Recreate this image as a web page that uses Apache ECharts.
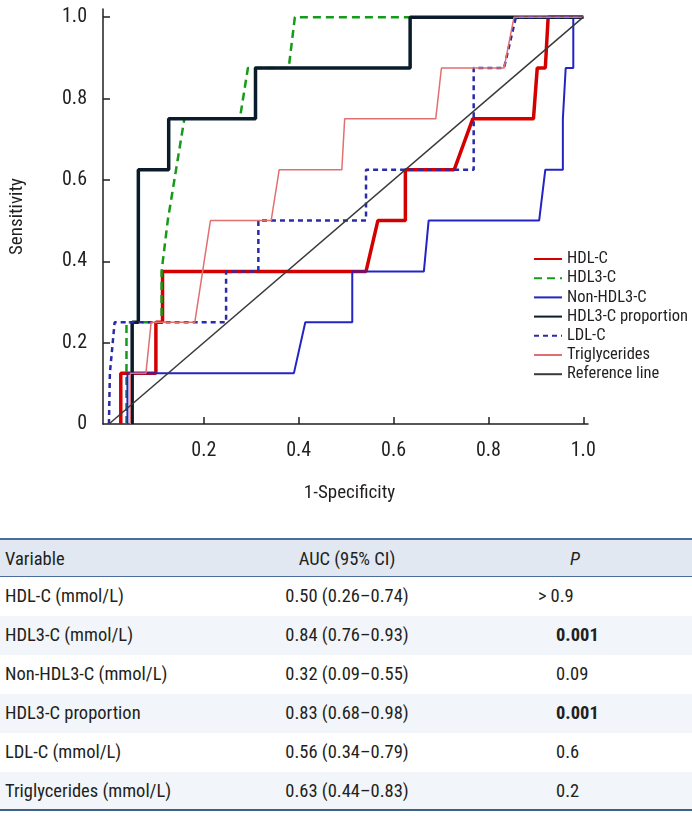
<!DOCTYPE html>
<html>
<head>
<meta charset="utf-8">
<script src="https://cdn.jsdelivr.net/npm/echarts@6/dist/echarts.min.js"></script>
<style>
html,body{margin:0;padding:0;background:#fff;}
#wrap{position:relative;width:692px;height:816px;overflow:hidden;background:#fff;}
#chart{position:absolute;left:0;top:0;width:692px;height:530px;}
#tbl{position:absolute;left:0;top:538px;width:692px;font-family:'Roboto Condensed',Roboto,sans-serif;font-size:18.5px;color:#231f20;}
.row{position:relative;height:39px;box-sizing:border-box;}
.row div{position:absolute;top:0;height:100%;line-height:39px;white-space:nowrap;}
.hdr{background:#e1e8f2;border-top:2px solid #4a6d9c;border-bottom:1.5px solid #4a6d9c;}
.shade{background:#f2f5f9;}
.last{border-bottom:2px solid #3f6089;}
</style>
</head>
<body>
<div id="wrap">
<div id="chart"></div>
<div id="tbl"></div>
</div>
<script>
// ---- ROC curve data: [1-Specificity, Sensitivity] ----
const hdlC = [[0.025,0],[0.025,0.125],[0.099,0.125],[0.099,0.25],[0.113,0.25],[0.113,0.375],[0.542,0.375],[0.567,0.5],[0.625,0.5],[0.625,0.625],[0.728,0.625],[0.767,0.75],[0.895,0.75],[0.903,0.875],[0.920,0.875],[0.926,1],[1,1]];
const hdl3C = [[0.037,0],[0.037,0.25],[0.111,0.25],[0.111,0.375],[0.124,0.5],[0.159,0.75],[0.276,0.75],[0.293,0.875],[0.379,0.875],[0.392,1],[1,1]];
const nonHdl3C = [[0.039,0],[0.039,0.125],[0.390,0.125],[0.414,0.25],[0.513,0.25],[0.513,0.375],[0.664,0.375],[0.674,0.5],[0.907,0.5],[0.920,0.625],[0.957,0.625],[0.957,0.75],[0.961,0.75],[0.963,0.875],[0.979,0.875],[0.979,1],[1,1]];
const hdl3CProportion = [[0.049,0],[0.049,0.25],[0.062,0.25],[0.062,0.625],[0.126,0.625],[0.126,0.75],[0.309,0.75],[0.309,0.875],[0.635,0.875],[0.635,1],[1,1]];
const ldlC = [[0,0],[0.002,0.125],[0.012,0.25],[0.247,0.25],[0.247,0.375],[0.315,0.375],[0.315,0.5],[0.542,0.5],[0.542,0.625],[0.769,0.625],[0.769,0.875],[0.833,0.875],[0.858,1],[1,1]];
const triglycerides = [[0.045,0],[0.045,0.125],[0.078,0.125],[0.089,0.25],[0.181,0.25],[0.214,0.5],[0.342,0.5],[0.359,0.625],[0.491,0.625],[0.497,0.75],[0.689,0.75],[0.701,0.875],[0.833,0.875],[0.854,1],[1,1]];
const referenceLine = [[0,0],[1,1]];

const seriesNames = ['HDL-C','HDL3-C','Non-HDL3-C','HDL3-C proportion','LDL-C','Triglycerides','Reference line'];
const xTicks = [0.2,0.4,0.6,0.8,1.0];
const yTicks = [0,0.2,0.4,0.6,0.8,1.0];

// ---- Table data ----
const tableHeader = ['Variable','AUC (95% CI)','P'];
const tableVariables = ['HDL-C (mmol/L)','HDL3-C (mmol/L)','Non-HDL3-C (mmol/L)','HDL3-C proportion','LDL-C (mmol/L)','Triglycerides (mmol/L)'];
const tableAUC = ['0.50 (0.26–0.74)','0.84 (0.76–0.93)','0.32 (0.09–0.55)','0.83 (0.68–0.98)','0.56 (0.34–0.79)','0.63 (0.44–0.83)'];
const tableP = ['>0.9','0.001','0.09','0.001','0.6','0.2'];
const tablePBold = [false,true,false,true,false,false];

const FONT = "'Roboto Condensed',Roboto,sans-serif";
const TXT = '#231f20';

const styles = {
  'HDL-C': {color:'#d40000', width:3.5, type:'solid'},
  'HDL3-C': {color:'#169a1a', width:2.5, type:[8,5]},
  'Non-HDL3-C': {color:'#2424c4', width:2, type:'solid'},
  'HDL3-C proportion': {color:'#0a1c2b', width:3.5, type:'solid'},
  'LDL-C': {color:'#2b2ba8', width:2.5, type:[5,4]},
  'Triglycerides': {color:'#e07070', width:1.5, type:'solid'},
  'Reference line': {color:'#3a3a3a', width:1.5, type:'solid'}
};
const dataByName = {
  'HDL-C': hdlC, 'HDL3-C': hdl3C, 'Non-HDL3-C': nonHdl3C,
  'HDL3-C proportion': hdl3CProportion, 'LDL-C': ldlC,
  'Triglycerides': triglycerides, 'Reference line': referenceLine
};

const chart = echarts.init(document.getElementById('chart'), null, {renderer:'canvas'});
chart.setOption({
  animation:false,
  backgroundColor:'#fff',
  textStyle:{fontFamily:FONT},
  grid:{left:93, right:104, top:9, bottom:530-424, containLabel:false},
  xAxis:{
    type:'value', min:-0.0125, max:1.01,
    name:'1-Specificity', nameLocation:'middle', nameGap:60,
    nameTextStyle:{fontFamily:FONT, fontSize:19, color:TXT, padding:[0,0,0,8]},
    axisLine:{show:true, onZero:false, lineStyle:{color:TXT, width:1.5}},
    axisTick:{show:true, inside:true, length:7, lineStyle:{color:TXT, width:1.5}, customValues:xTicks},
    axisLabel:{fontFamily:FONT, fontSize:20, color:TXT, margin:17, customValues:xTicks, formatter:v=>v.toFixed(1)},
    splitLine:{show:false}
  },
  yAxis:{
    type:'value', min:0, max:1.02,
    name:'Sensitivity', nameLocation:'middle', nameGap:76, nameRotate:90,
    nameTextStyle:{fontFamily:FONT, fontSize:19, color:TXT},
    axisLine:{show:true, onZero:false, lineStyle:{color:TXT, width:1.5}},
    axisTick:{show:true, inside:true, length:7, lineStyle:{color:TXT, width:1.5}, customValues:yTicks.filter(v=>v>0)},
    axisLabel:{fontFamily:FONT, fontSize:20, color:TXT, margin:16, customValues:yTicks, formatter:v=>v===0?'0':v.toFixed(1)},
    splitLine:{show:false}
  },
  legend:{
    orient:'vertical', left:528, top:245.5,
    itemWidth:28, itemHeight:12, itemGap:2.2,
    itemStyle:{opacity:0},
    textStyle:{fontFamily:FONT, fontSize:16.5, lineHeight:17, color:TXT},
    data:seriesNames
  },
  series:seriesNames.map((n,i)=>({
    type:'line', name:n, data:dataByName[n], symbol:'none', showSymbol:false,
    lineStyle:{color:styles[n].color, width:styles[n].width, type:styles[n].type},
    itemStyle:{color:styles[n].color},
    z:2+i
  }))
});

// ---- Build table ----
const tbl = document.getElementById('tbl');
function addRow(cells, cls, pBold, isHeader){
  const r = document.createElement('div');
  r.className = 'row ' + cls;
  const c1 = document.createElement('div'); c1.style.left='5px'; c1.textContent = cells[0];
  const c2 = document.createElement('div'); c2.style.left='222px'; c2.style.width='250px'; c2.style.textAlign='center'; c2.textContent = cells[1];
  const c3 = document.createElement('div');
  if(isHeader){ c3.style.left='545px'; c3.style.width='60px'; c3.style.textAlign='center'; c3.style.fontStyle='italic'; c3.textContent = cells[2]; }
  else if(cells[2].startsWith('>')){ c3.style.left='538px'; c3.innerHTML = '&gt;<span style="margin-left:4px">'+cells[2].slice(1)+'</span>'; }
  else { c3.style.left='556px'; c3.textContent = cells[2]; }
  if(pBold) c3.style.fontWeight='bold';
  r.appendChild(c1); r.appendChild(c2); r.appendChild(c3);
  tbl.appendChild(r);
}
addRow(tableHeader, 'hdr', false, true);
tableVariables.forEach((v,i)=>{
  let cls = (i%2===1)?'shade':'';
  if(i===tableVariables.length-1) cls += ' last';
  addRow([v, tableAUC[i], tableP[i]], cls, tablePBold[i], false);
});
</script>
</body>
</html>
